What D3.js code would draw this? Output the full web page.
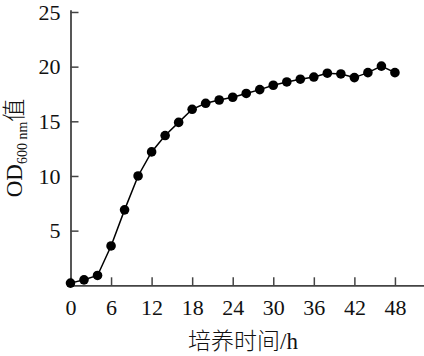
<!DOCTYPE html>
<html><head><meta charset="utf-8">
<script src="https://cdn.jsdelivr.net/npm/d3@7"></script>
<style>
html,body{margin:0;padding:0;background:#fff;}
svg{display:block;}
text{font-family:"Liberation Serif","Times New Roman","Noto Sans CJK SC",serif;}
</style></head>
<body>
<svg id="c" width="424" height="356"></svg>
<script>
const hours = [0,2,4,6,8,10,12,14,16,18,20,22,24,26,28,30,32,34,36,38,40,42,44,46,48];
const od600 = [0.2,0.5,0.9,3.6,6.9,10.0,12.2,13.7,14.9,16.1,16.65,16.95,17.2,17.55,17.9,18.3,18.6,18.85,19.05,19.4,19.33,19.0,19.45,20.05,19.45];
const xTicks = [0,6,12,18,24,30,36,42,48];
const yTicks = [5,10,15,20,25];
const xTitle = "培养时间/h";

const svg = d3.select("#c");
const x = d3.scaleLinear().domain([0,52.3]).range([70.5,424]);
const y = d3.scaleLinear().domain([0,25.2]).range([285.3,9.8]);
const axisColor = "#444";

const gx = svg.append("g").attr("transform",`translate(0,${y(0)})`)
  .call(d3.axisBottom(x).tickValues(xTicks).tickSize(-8).tickPadding(14).tickSizeOuter(0));
const gy = svg.append("g").attr("transform",`translate(${x(0)},0)`)
  .call(d3.axisLeft(y).tickValues(yTicks).tickSize(-8).tickPadding(10).tickSizeOuter(0));
[gx,gy].forEach(g=>{
  g.selectAll("path").attr("stroke",axisColor).attr("stroke-width",1.8);
  g.selectAll("line").attr("stroke",axisColor).attr("stroke-width",1.5);
  g.selectAll("text").attr("fill","#111").style("font-size","22px").style("font-family",'"Liberation Serif",serif');
});

const line = d3.line().x((d,i)=>x(hours[i])).y(d=>y(d));
svg.append("path").datum(od600).attr("d",line).attr("fill","none").attr("stroke","#000").attr("stroke-width",1.5);
svg.selectAll("circle.pt").data(od600).join("circle").attr("class","pt")
  .attr("cx",(d,i)=>x(hours[i])).attr("cy",d=>y(d)).attr("r",4.8).attr("fill","#000");

svg.append("text").attr("x",243).attr("y",349).attr("text-anchor","middle")
  .style("font-size","23px").style("font-weight","300").attr("fill","#111").text(xTitle);

const yt = svg.append("text").attr("transform",`translate(22,148) rotate(-90)`).attr("text-anchor","middle")
  .attr("fill","#111").style("font-size","23px").style("font-weight","300");
yt.append("tspan").text("OD");
yt.append("tspan").attr("dy",5).style("font-size","14px").text("600 nm");
yt.append("tspan").attr("dy",-5).text("值");
</script>
</body></html>
